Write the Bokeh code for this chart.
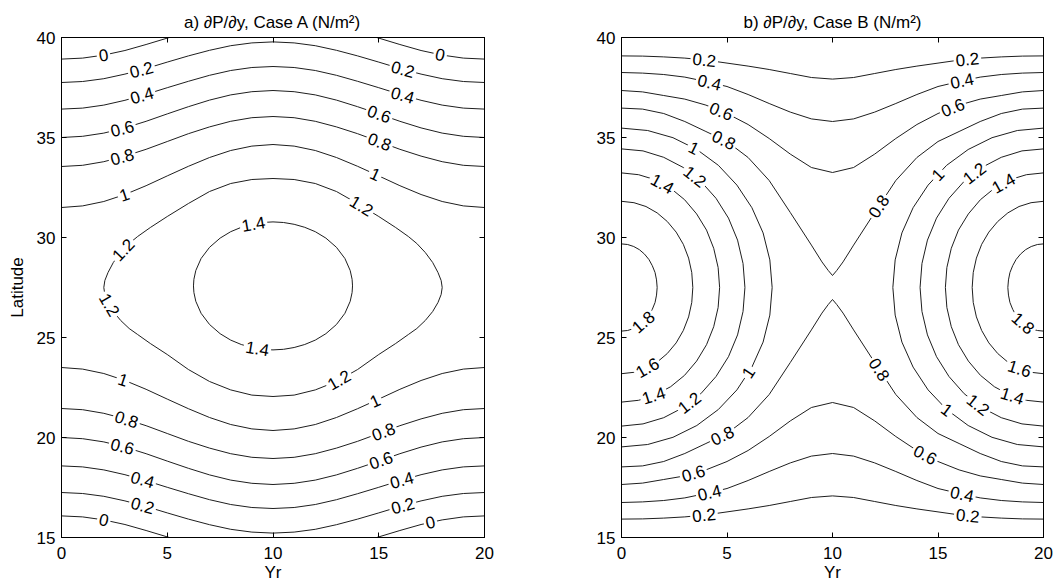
import math
import numpy as np
from bokeh.plotting import figure
from bokeh.layouts import row
from bokeh.models import Range1d, LinearAxis, FixedTicker, ColumnDataSource
from bokeh.embed import file_html
from bokeh.resources import INLINE
from bokeh.core.properties import value

# ---------------- data ----------------
X_TICKS = [0, 5, 10, 15, 20]
Y_TICKS = [15, 20, 25, 30, 35, 40]
T21 = list(range(21))

# Case A : contour lines (Yr, Latitude)
a_00_l_t = [0, 1, 2, 3, 4, 5, 5.1]
a_00_r_t = [14.9, 15, 16, 17, 18, 19, 20]
a_00_tl = [38.92, 38.97, 39.12, 39.35, 39.65, 39.97, 40.0]
a_00_tr = [40.0, 39.97, 39.65, 39.35, 39.12, 38.97, 38.92]
a_00_bl = [16.08, 16.03, 15.88, 15.65, 15.35, 15.03, 15.0]
a_00_br = [15.0, 15.03, 15.35, 15.65, 15.88, 16.03, 16.08]
a_02_top = [37.75, 37.80, 37.94, 38.17, 38.45, 38.77, 39.08, 39.36, 39.59, 39.73, 39.78, 39.73, 39.59, 39.36, 39.08, 38.77, 38.45, 38.17, 37.94, 37.80, 37.75]
a_04_top = [36.42, 36.47, 36.62, 36.86, 37.16, 37.49, 37.81, 38.11, 38.35, 38.50, 38.55, 38.50, 38.35, 38.11, 37.81, 37.49, 37.16, 36.86, 36.62, 36.47, 36.42]
a_06_top = [35.00, 35.06, 35.22, 35.48, 35.81, 36.18, 36.54, 36.87, 37.13, 37.29, 37.35, 37.29, 37.13, 36.87, 36.54, 36.18, 35.81, 35.48, 35.22, 35.06, 35.00]
a_08_top = [33.55, 33.61, 33.79, 34.07, 34.41, 34.80, 35.19, 35.53, 35.81, 35.99, 36.05, 35.99, 35.81, 35.53, 35.19, 34.80, 34.41, 34.07, 33.79, 33.61, 33.55]
a_10_top = [31.50, 31.58, 31.80, 32.15, 32.59, 33.08, 33.56, 34.00, 34.35, 34.57, 34.65, 34.57, 34.35, 34.00, 33.56, 33.08, 32.59, 32.15, 31.80, 31.58, 31.50]
a_02_bot = [17.25, 17.20, 17.06, 16.83, 16.55, 16.23, 15.92, 15.64, 15.41, 15.27, 15.22, 15.27, 15.41, 15.64, 15.92, 16.23, 16.55, 16.83, 17.06, 17.20, 17.25]
a_04_bot = [18.58, 18.53, 18.38, 18.14, 17.84, 17.51, 17.19, 16.89, 16.65, 16.50, 16.45, 16.50, 16.65, 16.89, 17.19, 17.51, 17.84, 18.14, 18.38, 18.53, 18.58]
a_06_bot = [20.00, 19.94, 19.78, 19.52, 19.19, 18.82, 18.46, 18.13, 17.87, 17.71, 17.65, 17.71, 17.87, 18.13, 18.46, 18.82, 19.19, 19.52, 19.78, 19.94, 20.00]
a_08_bot = [21.45, 21.39, 21.21, 20.93, 20.59, 20.20, 19.81, 19.47, 19.19, 19.01, 18.95, 19.01, 19.19, 19.47, 19.81, 20.20, 20.59, 20.93, 21.21, 21.39, 21.45]
a_10_bot = [23.50, 23.42, 23.20, 22.85, 22.41, 21.92, 21.44, 21.00, 20.65, 20.43, 20.35, 20.43, 20.65, 21.00, 21.44, 21.92, 22.41, 22.85, 23.20, 23.42, 23.50]
a_12_t = [2.00, 2.05, 2.20, 2.45, 2.80, 3.20, 3.60, 4.20, 5.00, 6.00, 7.00, 8.00, 9.00, 10.00, 11.00, 12.00, 13.00, 14.00, 15.00, 15.80, 16.40, 16.80, 17.20, 17.55, 17.80, 17.95, 18.00,
          17.95, 17.80, 17.55, 17.20, 16.80, 16.40, 15.80, 15.00, 14.00, 13.00, 12.00, 11.00, 10.00, 9.00, 8.00, 7.00, 6.00, 5.00, 4.20, 3.60, 3.20, 2.80, 2.45, 2.20, 2.05, 2.00]
a_12_lat = [27.50, 27.85, 28.25, 28.75, 29.25, 29.70, 30.05, 30.50, 31.05, 31.70, 32.30, 32.70, 32.90, 32.95, 32.90, 32.70, 32.30, 31.70, 31.05, 30.50, 30.05, 29.70, 29.25, 28.75, 28.25, 27.85, 27.50,
            27.15, 26.75, 26.30, 25.85, 25.45, 25.15, 24.70, 24.15, 23.40, 22.80, 22.38, 22.12, 22.05, 22.12, 22.38, 22.80, 23.40, 24.15, 24.70, 25.15, 25.45, 25.85, 26.30, 26.75, 27.15, 27.50]
a_14_t = [6.24, 6.26, 6.35, 6.60, 7.00, 7.50, 8.00, 8.50, 9.00, 9.50, 10.00, 10.50, 11.00, 11.50, 12.00, 12.50, 13.00, 13.40, 13.65, 13.74, 13.76,
          13.74, 13.65, 13.40, 13.00, 12.50, 12.00, 11.50, 11.00, 10.50, 10.00, 9.50, 9.00, 8.50, 8.00, 7.50, 7.00, 6.60, 6.35, 6.26, 6.24]
a_14_lat = [27.58, 27.91, 28.35, 28.95, 29.51, 29.97, 30.29, 30.51, 30.66, 30.75, 30.78, 30.75, 30.66, 30.51, 30.29, 29.97, 29.51, 28.95, 28.35, 27.91, 27.58,
            27.25, 26.81, 26.21, 25.65, 25.19, 24.87, 24.65, 24.50, 24.41, 24.38, 24.41, 24.50, 24.65, 24.87, 25.19, 25.65, 26.21, 26.81, 27.25, 27.58]

# Case A : contour labels
a_lab_text = ["0", "0.2", "0.4", "0.6", "0.8", "1", "1.2", "1.2", "1.4",
              "0", "0.2", "0.4", "0.6", "0.8", "1", "1.2",
              "1", "0.8", "0.6", "0.4", "0.2", "0", "1.4",
              "1.2", "1", "0.8", "0.6", "0.4", "0.2", "0"]
a_lab_t = [2.0, 3.8, 3.8, 2.87, 2.87, 2.95, 2.95, 2.32, 9.09,
           17.9, 16.1, 16.1, 15.0, 15.0, 14.85, 14.2,
           2.87, 3.03, 2.82, 3.81, 3.81, 2.0, 9.25,
           13.19, 14.9, 15.24, 15.13, 16.1, 16.15, 17.45]
a_lab_lat = [39.0, 38.3, 37.12, 35.47, 34.02, 32.2, 29.35, 26.67, 30.6,
             39.13, 38.25, 37.0, 36.1, 34.67, 33.2, 31.6,
             22.75, 20.75, 19.3, 17.8, 16.5, 15.87, 24.4,
             22.75, 21.67, 20.25, 18.78, 17.83, 16.53, 15.72]

# Case B : contour lines (Yr, Latitude)
b_02_top = [39.08, 39.07, 39.03, 38.97, 38.87, 38.72, 38.57, 38.40, 38.20, 38.00, 37.92, 38.00, 38.20, 38.40, 38.57, 38.72, 38.87, 38.97, 39.03, 39.07, 39.08]
b_04_top = [38.25, 38.22, 38.15, 38.02, 37.80, 37.55, 37.15, 36.70, 36.27, 35.93, 35.80, 35.93, 36.27, 36.70, 37.15, 37.55, 37.80, 38.02, 38.15, 38.22, 38.25]
b_06_top = [37.35, 37.28, 37.10, 36.92, 36.62, 36.20, 35.65, 34.95, 34.17, 33.50, 33.25, 33.50, 34.17, 34.95, 35.65, 36.20, 36.62, 36.92, 37.10, 37.28, 37.35]
b_02_bot = [15.92, 15.93, 15.97, 16.03, 16.13, 16.28, 16.43, 16.60, 16.80, 17.00, 17.08, 17.00, 16.80, 16.60, 16.43, 16.28, 16.13, 16.03, 15.97, 15.93, 15.92]
b_04_bot = [16.75, 16.78, 16.85, 16.98, 17.20, 17.45, 17.85, 18.30, 18.73, 19.07, 19.20, 19.07, 18.73, 18.30, 17.85, 17.45, 17.20, 16.98, 16.85, 16.78, 16.75]
b_06_bot = [17.65, 17.72, 17.90, 18.08, 18.38, 18.80, 19.35, 20.05, 20.83, 21.50, 21.75, 21.50, 20.83, 20.05, 19.35, 18.80, 18.38, 18.08, 17.90, 17.72, 17.65]
b_08_t = [0, 1, 2, 3, 4, 5, 6, 7, 8, 9, 9.5, 9.8, 10, 10.2, 10.5, 11, 12, 13, 14, 15, 16, 17, 18, 19, 20]
b_08_top = [36.47, 36.42, 36.20, 35.80, 35.30, 34.80, 34.00, 32.85, 31.25, 29.62, 28.78, 28.35, 28.10, 28.35, 28.78, 29.62, 31.25, 32.85, 34.00, 34.80, 35.30, 35.80, 36.20, 36.42, 36.47]
b_08_bot = [18.53, 18.58, 18.80, 19.20, 19.70, 20.20, 21.00, 22.15, 23.75, 25.38, 26.22, 26.65, 26.90, 26.65, 26.22, 25.38, 23.75, 22.15, 21.00, 20.20, 19.70, 19.20, 18.80, 18.58, 18.53]

b_18_lt = [0, 0.29, 0.58, 0.85, 1.09, 1.30, 1.46, 1.59, 1.66, 1.69, 1.66, 1.59, 1.46, 1.30, 1.09, 0.85, 0.58, 0.29, 0]
b_18_rt = [20, 19.71, 19.42, 19.15, 18.91, 18.70, 18.54, 18.41, 18.34, 18.31, 18.34, 18.41, 18.54, 18.70, 18.91, 19.15, 19.42, 19.71, 20]
b_18_lat = [29.68, 29.65, 29.55, 29.39, 29.17, 28.90, 28.59, 28.25, 27.88, 27.50, 27.12, 26.75, 26.41, 26.10, 25.83, 25.61, 25.45, 25.35, 25.32]
b_16_lt = [0, 0.59, 1.16, 1.69, 2.17, 2.59, 2.93, 3.18, 3.33, 3.38, 3.33, 3.18, 2.93, 2.59, 2.17, 1.69, 1.16, 0.59, 0]
b_16_rt = [20, 19.41, 18.84, 18.31, 17.83, 17.41, 17.07, 16.82, 16.67, 16.62, 16.67, 16.82, 17.07, 17.41, 17.83, 18.31, 18.84, 19.41, 20]
b_16_lat = [31.81, 31.74, 31.55, 31.23, 30.80, 30.27, 29.66, 28.97, 28.25, 27.50, 26.75, 26.03, 25.35, 24.73, 24.20, 23.77, 23.45, 23.26, 23.19]
b_14_lt = [0, 0.81, 1.59, 2.33, 2.99, 3.56, 4.03, 4.37, 4.58, 4.65, 4.58, 4.37, 4.03, 3.56, 2.99, 2.33, 1.59, 0.81, 0]
b_14_rt = [20, 19.19, 18.41, 17.67, 17.01, 16.44, 15.97, 15.63, 15.42, 15.35, 15.42, 15.63, 15.97, 16.44, 17.01, 17.67, 18.41, 19.19, 20]
b_14_lat = [33.23, 33.14, 32.89, 32.46, 31.89, 31.18, 30.37, 29.46, 28.50, 27.50, 26.50, 25.54, 24.64, 23.82, 23.11, 22.54, 22.12, 21.86, 21.77]
b_12_lt = [0, 1.02, 2.00, 2.93, 3.76, 4.48, 5.07, 5.50, 5.76, 5.85, 5.76, 5.50, 5.07, 4.48, 3.76, 2.93, 2.00, 1.02, 0]
b_12_rt = [20, 18.98, 18.00, 17.07, 16.24, 15.52, 14.93, 14.50, 14.24, 14.15, 14.24, 14.50, 14.93, 15.52, 16.24, 17.07, 18.00, 18.98, 20]
b_12_lat = [34.43, 34.33, 34.01, 33.50, 32.81, 31.96, 30.97, 29.87, 28.70, 27.50, 26.30, 25.13, 24.04, 23.05, 22.19, 21.50, 20.99, 20.68, 20.57]
b_10_lt = [0, 1.24, 2.44, 3.57, 4.59, 5.47, 6.18, 6.71, 7.03, 7.14, 7.03, 6.71, 6.18, 5.47, 4.59, 3.57, 2.44, 1.24, 0]
b_10_rt = [20, 18.76, 17.56, 16.43, 15.41, 14.53, 13.82, 13.29, 12.97, 12.86, 12.97, 13.29, 13.82, 14.53, 15.41, 16.43, 17.56, 18.76, 20]
b_10_lat = [35.47, 35.35, 34.99, 34.40, 33.61, 32.62, 31.49, 30.23, 28.88, 27.50, 26.12, 24.77, 23.52, 22.38, 21.40, 20.60, 20.01, 19.65, 19.53]

# Case B : contour labels
b_lab_text = ["0.2", "0.4", "0.6", "0.8", "1", "1.2", "1.4",
              "1.8", "1.6", "1.4", "1.2", "1", "0.8", "0.6", "0.4", "0.2",
              "0.2", "0.4", "0.6", "0.8", "1", "1.2", "1.4",
              "1.8", "1.6", "1.4", "1.2", "1", "0.8", "0.6", "0.4", "0.2"]
b_lab_t = [3.92, 4.15, 4.7, 4.86, 3.44, 3.51, 1.93,
           0.98, 1.22, 1.53, 3.27, 6.02, 4.86, 3.44, 4.15, 3.92,
           16.4, 16.14, 15.67, 12.2, 14.96, 16.7, 18.13,
           18.99, 18.83, 18.5, 16.86, 15.44, 12.12, 14.33, 16.14, 16.4]
b_lab_lat = [38.83, 37.67, 36.25, 34.9, 34.5, 33.08, 32.67,
             25.83, 23.5, 22.08, 21.67, 23.25, 19.92, 18.08, 17.33, 16.0,
             38.83, 37.83, 36.58, 31.55, 33.17, 33.25, 32.67,
             25.67, 23.33, 22.0, 21.58, 21.42, 23.33, 19.0, 17.17, 15.95]

# ---------------- assemble ----------------
curves_a = [
    ("0", a_00_l_t, a_00_tl), ("0", a_00_r_t, a_00_tr), ("0", a_00_l_t, a_00_bl), ("0", a_00_r_t, a_00_br),
    ("0.2", T21, a_02_top), ("0.4", T21, a_04_top), ("0.6", T21, a_06_top), ("0.8", T21, a_08_top), ("1", T21, a_10_top),
    ("0.2", T21, a_02_bot), ("0.4", T21, a_04_bot), ("0.6", T21, a_06_bot), ("0.8", T21, a_08_bot), ("1", T21, a_10_bot),
    ("1.2", a_12_t, a_12_lat), ("1.4", a_14_t, a_14_lat),
]
curves_b = [
    ("0.2", T21, b_02_top), ("0.4", T21, b_04_top), ("0.6", T21, b_06_top), ("0.8", b_08_t, b_08_top),
    ("0.2", T21, b_02_bot), ("0.4", T21, b_04_bot), ("0.6", T21, b_06_bot), ("0.8", b_08_t, b_08_bot),
    ("1.8", b_18_lt, b_18_lat), ("1.8", b_18_rt, b_18_lat),
    ("1.6", b_16_lt, b_16_lat), ("1.6", b_16_rt, b_16_lat),
    ("1.4", b_14_lt, b_14_lat), ("1.4", b_14_rt, b_14_lat),
    ("1.2", b_12_lt, b_12_lat), ("1.2", b_12_rt, b_12_lat),
    ("1", b_10_lt, b_10_lat), ("1", b_10_rt, b_10_lat),
]

FONT = "Liberation Sans"
FS = "17px"
FH = 500


def snap(curves, level, t0, y0, sx, sy):
    best = None
    qx, qy = t0 * sx, y0 * sy
    for lv, ts, ys in curves:
        if lv != level:
            continue
        px = np.asarray(ts, float) * sx
        py = np.asarray(ys, float) * sy
        for i in range(len(px) - 1):
            ax, ay = px[i], py[i]
            dx, dy = px[i + 1] - ax, py[i + 1] - ay
            L2 = dx * dx + dy * dy
            if L2 == 0:
                continue
            u = min(1.0, max(0.0, ((qx - ax) * dx + (qy - ay) * dy) / L2))
            cx, cy = ax + u * dx, ay + u * dy
            d = (cx - qx) ** 2 + (cy - qy) ** 2
            if best is None or d < best[0]:
                best = (d, cx / sx, cy / sy, math.atan2(dy, dx))
    _, x, y, a = best
    if a > math.pi / 2:
        a -= math.pi
    elif a < -math.pi / 2:
        a += math.pi
    return x, y, a


def panel(curves, lab_text, lab_t, lab_lat, title, ylabel, fw, bl, br):
    p = figure(frame_width=fw, frame_height=FH, x_range=Range1d(0, 20), y_range=Range1d(15, 40),
               output_backend="svg", toolbar_location=None, title=title,
               min_border_left=bl, min_border_right=br, min_border_top=37, min_border_bottom=51)
    p.grid.visible = False
    p.outline_line_color = "black"
    p.background_fill_color = "white"
    p.border_fill_color = "white"
    p.title.align = "center"
    p.title.text_font = FONT
    p.title.text_font_size = FS
    p.title.text_font_style = "normal"
    p.title.text_color = "black"
    p.title.standoff = 12

    p.xaxis.ticker = FixedTicker(ticks=X_TICKS)
    p.yaxis.ticker = FixedTicker(ticks=Y_TICKS)
    p.xaxis.axis_label = "Yr"
    if ylabel:
        p.yaxis.axis_label = ylabel
    for ax in (p.xaxis[0], p.yaxis[0]):
        ax.major_tick_in = 5
        ax.major_tick_out = 0
        ax.minor_tick_in = 0
        ax.minor_tick_out = 0
        ax.axis_line_color = "black"
        ax.major_tick_line_color = "black"
        ax.major_label_text_font = FONT
        ax.major_label_text_font_size = FS
        ax.major_label_text_color = "black"
        ax.axis_label_text_font = FONT
        ax.axis_label_text_font_size = FS
        ax.axis_label_text_font_style = "normal"
        ax.axis_label_text_color = "black"
    p.xaxis[0].major_label_standoff = 9
    p.xaxis[0].axis_label_standoff = 1
    p.yaxis[0].major_label_standoff = 6
    p.yaxis[0].axis_label_standoff = 7

    top = LinearAxis(ticker=FixedTicker(ticks=X_TICKS), major_label_overrides={t: "" for t in X_TICKS},
                     major_tick_in=5, major_tick_out=0, minor_tick_in=0, minor_tick_out=0,
                     major_label_standoff=0, axis_line_color="black")
    right = LinearAxis(ticker=FixedTicker(ticks=Y_TICKS), major_label_overrides={t: "" for t in Y_TICKS},
                       major_tick_in=5, major_tick_out=0, minor_tick_in=0, minor_tick_out=0,
                       major_label_standoff=0, axis_line_color="black")
    p.add_layout(top, "above")
    p.add_layout(right, "right")

    p.multi_line(xs=[list(c[1]) for c in curves], ys=[list(c[2]) for c in curves],
                 line_color="#1e1e1e", line_width=1.0)

    sx, sy = fw / 20.0, FH / 25.0
    xs, ys, angs = [], [], []
    for txt, t0, y0 in zip(lab_text, lab_t, lab_lat):
        x, y, a = snap(curves, txt, t0, y0, sx, sy)
        xs.append(x)
        ys.append(y)
        angs.append(a)
    src = ColumnDataSource(dict(x=xs, y=ys, text=list(lab_text), angle=angs))
    p.text("x", "y", text="text", angle="angle", source=src, text_align="center", text_baseline="middle",
           text_font=value(FONT), text_font_size=FS, text_color="black",
           background_fill_color="white", padding=2)
    return p


p1 = panel(curves_a, a_lab_text, a_lab_t, a_lab_lat, "a) \u2202P/\u2202y, Case A (N/m\u00b2)", "Latitude", 423, 61, 40)
p2 = panel(curves_b, b_lab_text, b_lab_t, b_lab_lat, "b) \u2202P/\u2202y, Case B (N/m\u00b2)", None, 422, 97, 16)

layout = row(p1, p2)
open("out.html", "w").write(file_html(layout, INLINE))
